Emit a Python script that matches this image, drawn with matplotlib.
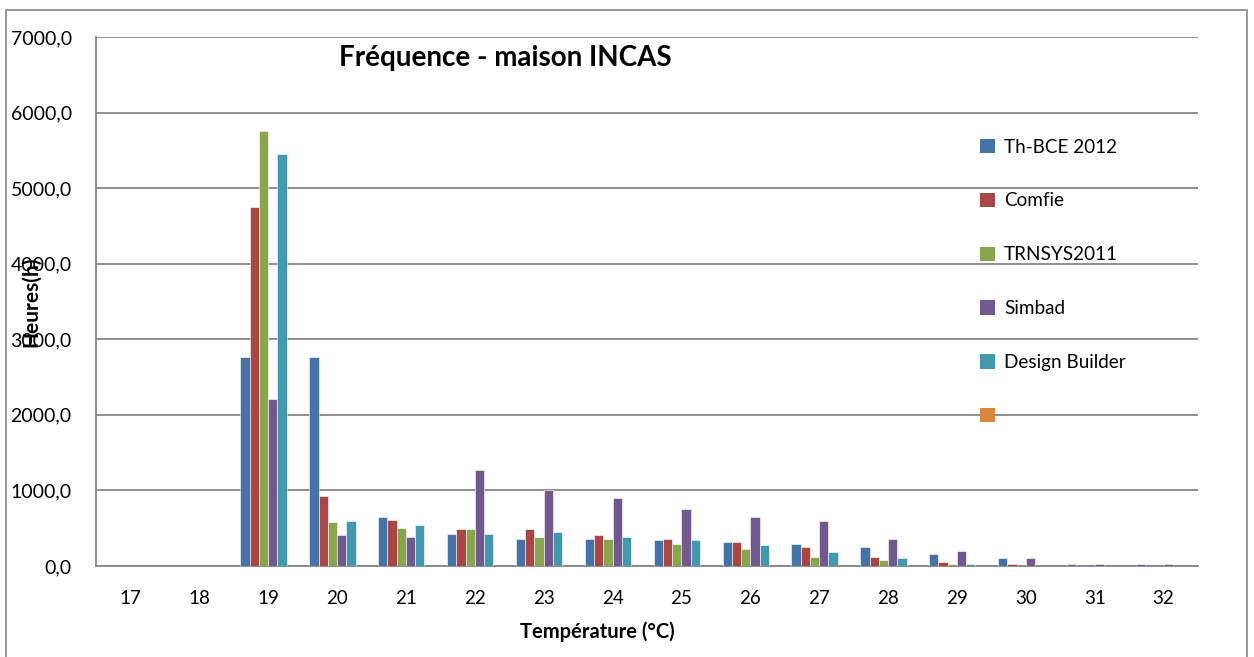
import numpy as np
import matplotlib
matplotlib.use("Agg")
import matplotlib.pyplot as plt
from matplotlib.patches import Patch, Rectangle
from matplotlib.ticker import FuncFormatter

plt.rcParams['font.family'] = ['Lato', 'DejaVu Sans']

# Hours spent at each indoor temperature, per simulation tool
temperatures = [17, 18, 19, 20, 21, 22, 23, 24, 25, 26, 27, 28, 29, 30, 31, 32]
series_names = ["Th-BCE 2012", "Comfie", "TRNSYS2011", "Simbad", "Design Builder", " "]

th_bce = [0, 0, 2760, 2760, 648, 428, 360, 360, 338, 316, 294, 250, 162, 100, 30, 30]
comfie = [0, 0, 4750, 930, 605, 495, 495, 404, 360, 316, 250, 122, 56, 33, 0, 0]
trnsys = [0, 0, 5750, 582, 499, 495, 382, 360, 294, 228, 122, 73, 33, 0, 0, 0]
simbad = [0, 0, 2210, 410, 388, 1275, 1000, 904, 752, 643, 600, 360, 205, 100, 30, 30]
design_builder = [0, 0, 5450, 600, 539, 428, 445, 382, 338, 272, 184, 100, 33, 0, 0, 0]
empty_series = [0] * len(temperatures)

colors = ['#4572A7', '#AA4643', '#89A54E', '#71588F', '#4198AF', '#DB843D']
all_series = [th_bce, comfie, trnsys, simbad, design_builder, empty_series]

W, H = 1254, 657
fig = plt.figure(figsize=(W / 100, H / 100), dpi=100)
ax = fig.add_axes([96 / W, 1 - 566 / H, 1102 / W, 529 / H])

x = np.arange(len(temperatures))
n = len(all_series)
bar_w = 0.134
offsets = (np.arange(n) - (n - 1) / 2) * bar_w
for vals, off, col in zip(all_series, offsets, colors):
    ax.bar(x + off, vals, width=bar_w, color=col, edgecolor='white',
           linewidth=0.4, zorder=3)

ax.set_xlim(-0.5, len(temperatures) - 0.5)
ax.set_ylim(0, 7000)
ax.set_yticks(np.arange(0, 7001, 1000))
ax.yaxis.set_major_formatter(FuncFormatter(lambda v, p: f"{v:.1f}".replace('.', ',')))
ax.set_xticks(x)
ax.set_xticklabels([str(t) for t in temperatures])
ax.tick_params(axis='x', length=0, pad=17, labelsize=13.5)
ax.tick_params(axis='y', length=0, pad=17.5, labelsize=14)

ax.grid(axis='y', color='#868686', linewidth=1.3, zorder=0)
for side in ['top', 'right']:
    ax.spines[side].set_visible(False)
for side in ['left', 'bottom']:
    ax.spines[side].set_color('#868686')
    ax.spines[side].set_linewidth(1.3)

fig.text(505 / W, 1 - 58 / H, "Fréquence - maison INCAS",
         ha='center', va='center', fontsize=20, fontweight='bold')
fig.text(597 / W, 1 - 632 / H, "Température (°C)",
         ha='center', va='center', fontsize=14.5, fontweight='bold')
fig.text(31 / W, 1 - 302 / H, "Heures(h)", rotation=90, ha='center',
         va='center', fontsize=15, fontweight='bold')

handles = [Patch(facecolor=c) for c in colors]
leg = ax.legend(handles, series_names, loc='upper left',
                bbox_to_anchor=(0.787, 0.84), frameon=False, fontsize=13.6,
                handlelength=0.8, handleheight=0.8, handletextpad=0.45,
                labelspacing=1.95)

# chart frame
fig.patches.append(Rectangle((6 / W, -0.01), 1241 / W, 1 - 10 / H + 0.01,
                             transform=fig.transFigure, fill=False,
                             edgecolor='#868686', linewidth=1.2))

fig.savefig("out.png", dpi=100)
